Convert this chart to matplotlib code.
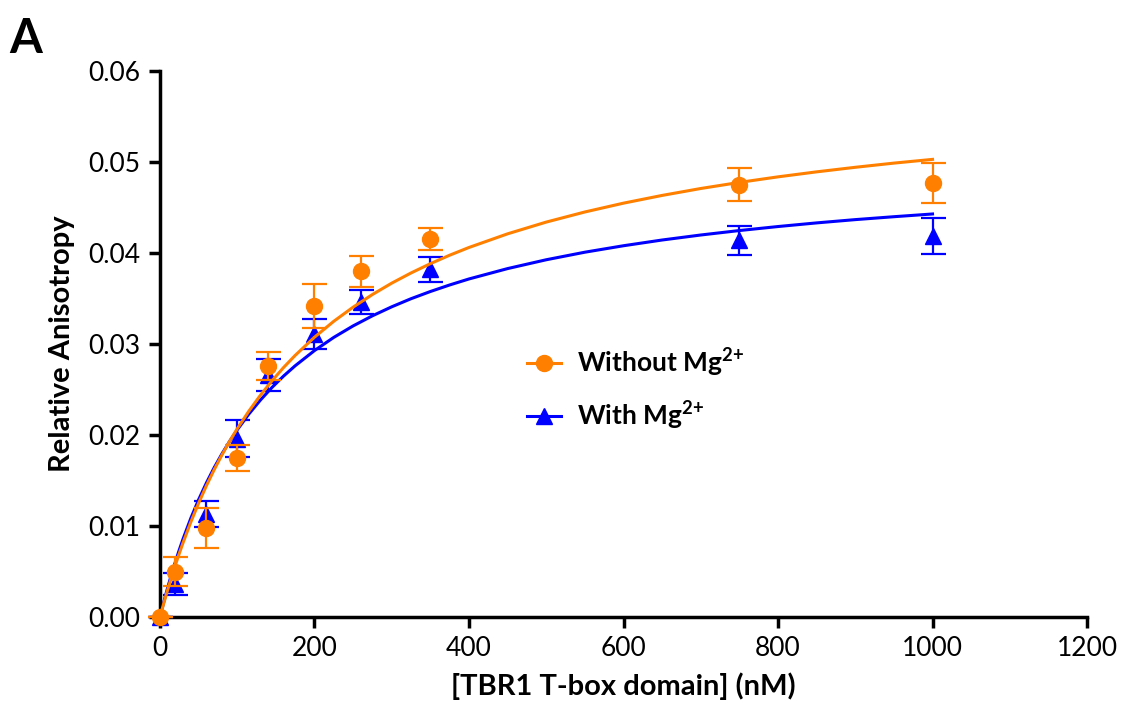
import numpy as np
import matplotlib
matplotlib.use("Agg")
import matplotlib.pyplot as plt

# ---- data ----
conc = [0, 20, 60, 100, 140, 200, 260, 350, 750, 1000]

without_mg = [0.0, 0.0050, 0.0098, 0.0175, 0.0276, 0.0342, 0.0380, 0.0415, 0.0475, 0.0477]
without_mg_err = [0.0, 0.0016, 0.0022, 0.0014, 0.0015, 0.0024, 0.0017, 0.0012, 0.0018, 0.0022]

with_mg = [0.0, 0.0036, 0.0113, 0.0196, 0.0266, 0.0311, 0.0346, 0.0382, 0.0414, 0.0419]
with_mg_err = [0.0, 0.0012, 0.0014, 0.0020, 0.0018, 0.0016, 0.0013, 0.0014, 0.0016, 0.0020]

# fitted curves
fit_x = [0, 5, 10, 15, 20, 25, 30, 40, 50, 60, 70, 80, 90, 100, 115, 130, 145,
         160, 175, 200, 225, 250, 275, 300, 325, 350, 375, 400, 450, 500, 550,
         600, 650, 700, 750, 800, 850, 900, 950, 1000]
fit_without = [0.0, 0.00154, 0.00301, 0.00440, 0.00572, 0.00699, 0.00819, 0.01045,
               0.01251, 0.01441, 0.01616, 0.01778, 0.01929, 0.02069, 0.02262,
               0.02437, 0.02596, 0.02742, 0.02875, 0.03075, 0.03250, 0.03405,
               0.03544, 0.03669, 0.03781, 0.03883, 0.03976, 0.04061, 0.04211,
               0.04340, 0.04451, 0.04548, 0.04633, 0.04709, 0.04776, 0.04837,
               0.04892, 0.04942, 0.04988, 0.05029]
fit_with = [0.0, 0.00167, 0.00324, 0.00470, 0.00608, 0.00738, 0.00861, 0.01087,
            0.01289, 0.01472, 0.01639, 0.01790, 0.01929, 0.02057, 0.02230,
            0.02384, 0.02523, 0.02648, 0.02761, 0.02928, 0.03073, 0.03199,
            0.03310, 0.03409, 0.03498, 0.03577, 0.03649, 0.03715, 0.03829,
            0.03926, 0.04009, 0.04080, 0.04143, 0.04198, 0.04247, 0.04291,
            0.04331, 0.04367, 0.04399, 0.04429]

ORANGE = "#FF8000"
BLUE = "#0000FF"

plt.rcParams["font.family"] = ["Lato", "DejaVu Sans"]
plt.rcParams["mathtext.fontset"] = "custom"
plt.rcParams["mathtext.rm"] = "Lato"
plt.rcParams["mathtext.bf"] = "Lato:bold"

fig = plt.figure(figsize=(11.21, 7.13), dpi=100)
ax = fig.add_axes([0.1427, 0.1346, 0.8270, 0.7658])

# blue first so orange sits on top
ax.plot(fit_x, fit_with, color=BLUE, lw=2.2, zorder=2)
ax.errorbar(conc, with_mg, yerr=with_mg_err, fmt="^", color=BLUE, ms=11.5,
            capsize=9, elinewidth=1.6, capthick=1.6, zorder=3, clip_on=False)
ax.plot(fit_x, fit_without, color=ORANGE, lw=2.2, zorder=4)
ax.errorbar(conc, without_mg, yerr=without_mg_err, fmt="o", color=ORANGE, ms=11.5,
            capsize=9, elinewidth=1.6, capthick=1.6, zorder=5, clip_on=False)

# legend handles: short line with marker
h1, = ax.plot([], [], color=ORANGE, marker="o", ms=11.5, lw=2.2)
h2, = ax.plot([], [], color=BLUE, marker="^", ms=11.5, lw=2.2)
ax.legend([h1, h2], [r"Without Mg$^{\mathbf{2{+}}}$", r"With Mg$^{\mathbf{2{+}}}$"],
          loc="center left", bbox_to_anchor=(0.37, 0.418), frameon=False,
          prop={"weight": "bold", "size": 19}, handlelength=1.3,
          handletextpad=0.6, labelspacing=0.75)

ax.set_xlim(0, 1200)
ax.set_ylim(0, 0.06)
ax.set_xticks(np.arange(0, 1201, 200))
ax.set_yticks(np.arange(0, 0.0601, 0.01))
ax.set_yticklabels([f"{v:.2f}" for v in np.arange(0, 0.0601, 0.01)])

for side in ["top", "right"]:
    ax.spines[side].set_visible(False)
for side in ["left", "bottom"]:
    ax.spines[side].set_linewidth(2.5)
ax.tick_params(width=2.5, length=8, labelsize=19, pad=6)

ax.set_xlabel("[TBR1 T-box domain] (nM)", fontsize=21, fontweight="bold", labelpad=8)
ax.set_ylabel("Relative Anisotropy", fontsize=21, fontweight="bold", labelpad=10)

fig.text(0.008, 0.925, "A", fontsize=34, fontweight="bold")

fig.savefig("out.png", dpi=100)
